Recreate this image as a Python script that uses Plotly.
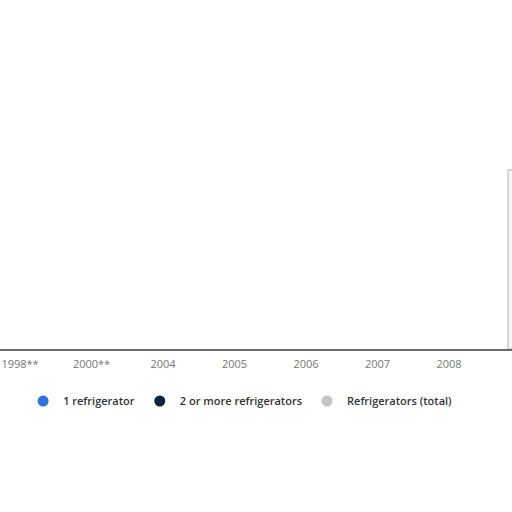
import plotly.graph_objects as go

# categories on the x axis (the last one is only partly in view)
years = ["1998**", "2000**", "2004", "2005", "2006", "2007", "2008", "2009"]

# share of households, in percent; only the 2009 total bar shows in the crop
one_fridge = [None, None, None, None, None, None, None, None]
two_or_more = [None, None, None, None, None, None, None, None]
total = [None, None, None, None, None, None, None, 51.3]

series_names = ["1 refrigerator", "2 or more refrigerators", "Refrigerators (total)"]
series_colors = ["#2f74d8", "#0f2438", "#c4c4c4"]

fig = go.Figure()

# total bar sits first in each group, legend keeps the original order
# (in the crop it only shows as a pale sliver with a grey edge)
fig.add_trace(go.Bar(
    x=years, y=total, showlegend=False,
    marker=dict(color="#f7f7f7", line=dict(color="#c9c9c9", width=1.5)),
))
fig.add_trace(go.Bar(x=years, y=one_fridge, marker_color=series_colors[0], showlegend=False))
fig.add_trace(go.Bar(x=years, y=two_or_more, marker_color=series_colors[1], showlegend=False))

# circle markers for the legend entries
for i, (name, color) in enumerate(zip(series_names, series_colors)):
    fig.add_trace(go.Scatter(
        x=[None], y=[None], mode="markers", name=name,
        marker=dict(symbol="circle", size=11, color=color),
        legendrank=i,
    ))

fig.update_layout(
    width=512, height=512,
    margin=dict(l=0, r=0, t=0, b=163),
    paper_bgcolor="white", plot_bgcolor="white",
    barmode="group", bargap=0.65,
    font=dict(family="Open Sans, Noto Sans, sans-serif"),
    legend=dict(
        orientation="h", x=0.469, xanchor="center", y=-0.149, yanchor="middle",
        font=dict(size=11, color="#333333", weight=600),
        itemwidth=30, tracegroupgap=0,
    ),
)
fig.update_xaxes(
    type="category", range=[-0.28, 6.88],
    showline=True, linecolor="#6b6b6b", linewidth=1.5,
    showgrid=False, ticks="", ticklabelstandoff=4,
    tickfont=dict(size=11, color="#777777"),
)
fig.update_yaxes(range=[0, 100], visible=False, showgrid=False)

# drop the default page margin so the figure sits at the window's corner
fig.write_html(
    "out.html",
    config={"displayModeBar": False},
    post_script="document.body.style.margin='0';",
)
